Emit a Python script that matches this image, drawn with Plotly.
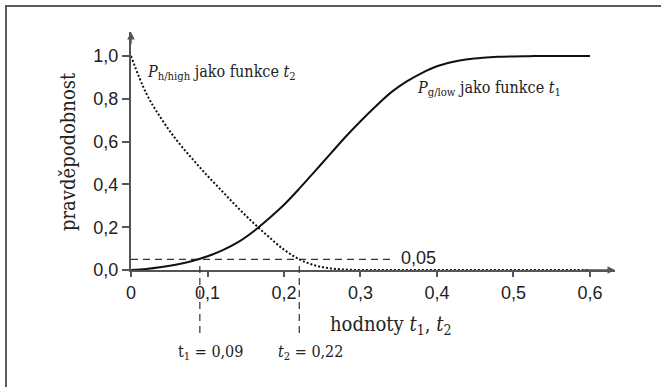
import plotly.graph_objects as go

# ---- data ----
t_vals = [0.00, 0.02, 0.04, 0.06, 0.08, 0.10, 0.12, 0.14, 0.16, 0.18, 0.20,
          0.22, 0.24, 0.26, 0.28, 0.30, 0.32, 0.34, 0.36, 0.38, 0.40, 0.42, 0.44,
          0.46, 0.48, 0.50, 0.52, 0.54, 0.56, 0.58, 0.60]
p_g_low = [0.000, 0.005, 0.014, 0.026, 0.042, 0.064, 0.093, 0.130, 0.180,
           0.240, 0.305, 0.380, 0.460, 0.540, 0.620, 0.695, 0.765, 0.830, 0.880, 0.920,
           0.952, 0.972, 0.985, 0.992, 0.996, 0.998, 0.999, 1.000, 1.000, 1.000, 1.000]
p_h_high = [1.000, 0.825, 0.705, 0.605, 0.520, 0.440, 0.365, 0.290, 0.220,
            0.155, 0.095, 0.050, 0.022, 0.008, 0.002, 0.000, 0.000, 0.000, 0.000, 0.000,
            0.000, 0.000, 0.000, 0.000, 0.000, 0.000, 0.000, 0.000, 0.000, 0.000, 0.000]

threshold_p = 0.05
threshold_line_t = [0.0, 0.339]
t1_value = 0.09
t2_value = 0.22

x_tickvals = [0, 0.1, 0.2, 0.3, 0.4, 0.5, 0.6]
x_ticktext = ["0", "0,1", "0,2", "0,3", "0,4", "0,5", "0,6"]
y_tickvals = [0.0, 0.2, 0.4, 0.6, 0.8, 1.0]
y_ticktext = ["0,0", "0,2", "0,4", "0,6", "0,8", "1,0"]

# ---- layout geometry (pixels) ----
W, H = 661, 387
L, R, T, B = 131, 46, 32, 117
X_MAX = 0.6327
Y_MAX = 1.112
pw = W - L - R
ph = H - T - B

def px_to_paper_x(px):
    return (px - L) / pw

def px_to_paper_y(py):
    return (H - B - py) / ph

AX = "#555555"
SERIF = "DejaVu Serif Condensed, DejaVu Serif"
SANS = "Liberation Sans"

fig = go.Figure()

fig.add_trace(go.Scatter(x=threshold_line_t, y=[threshold_p] * len(threshold_line_t),
                         mode="lines", line=dict(color="#333333", width=1.2, dash="7px,5px"),
                         hoverinfo="skip", showlegend=False))
fig.add_trace(go.Scatter(x=t_vals, y=p_h_high, mode="lines", line_shape="spline",
                         line=dict(color="#111111", width=2, dash="2px,2px"),
                         showlegend=False))
fig.add_trace(go.Scatter(x=t_vals, y=p_g_low, mode="lines", line_shape="spline",
                         line=dict(color="#111111", width=2),
                         showlegend=False))

for tv in (t1_value, t2_value):
    fig.add_shape(type="line", xref="x", yref="paper", x0=tv, x1=tv,
                  y0=px_to_paper_y(266), y1=px_to_paper_y(338),
                  line=dict(color="#333333", width=1.2, dash="7px,5px"))

fig.add_shape(type="path", xref="paper", yref="paper",
              path=f"M {px_to_paper_x(6)},{px_to_paper_y(H + 2)} L {px_to_paper_x(6)},{px_to_paper_y(6)} L {px_to_paper_x(W + 2)},{px_to_paper_y(6)}",
              line=dict(color="#5a5a5a", width=2))

annotations = [
    dict(x=X_MAX, y=0, ax=0.59, ay=0, xref="x", yref="y", axref="x", ayref="y",
         text="", showarrow=True, arrowhead=2, arrowsize=1, arrowwidth=1.5, arrowcolor=AX),
    dict(x=0, y=Y_MAX, ax=0, ay=1.05, xref="x", yref="y", axref="x", ayref="y",
         text="", showarrow=True, arrowhead=2, arrowsize=1, arrowwidth=1.5, arrowcolor=AX),
    dict(x=px_to_paper_x(390), y=px_to_paper_y(325), xref="paper", yref="paper",
         text="hodnoty <i>t</i><sub>1</sub>, <i>t</i><sub>2</sub>", showarrow=False,
         font=dict(family=SERIF, size=20, color="#222222"), xanchor="center", yanchor="middle"),
    dict(x=px_to_paper_x(68), y=px_to_paper_y(152), xref="paper", yref="paper",
         text="pravděpodobnost", textangle=-90, showarrow=False,
         font=dict(family=SERIF, size=20, color="#222222"), xanchor="center", yanchor="middle"),
    dict(x=0.0183, y=0.925, xref="x", yref="y",
         text="<i>P</i><sub>h/high</sub> jako funkce <i>t</i><sub>2</sub>", showarrow=False,
         font=dict(family=SERIF, size=16, color="#222222"), xanchor="left", yanchor="middle"),
    dict(x=0.371, y=0.85, xref="x", yref="y",
         text="<i>P</i><sub>g/low</sub> jako funkce <i>t</i><sub>1</sub>", showarrow=False,
         font=dict(family=SERIF, size=16, color="#222222"), xanchor="left", yanchor="middle"),
    dict(x=0.350, y=0.057, xref="x", yref="y", text="0,05", showarrow=False,
         font=dict(family=SANS, size=18, color="#222222"), xanchor="left", yanchor="middle"),
    dict(x=0.104, y=px_to_paper_y(352), xref="x", yref="paper",
         text="t<sub>1</sub> = 0,09", showarrow=False,
         font=dict(family=SERIF, size=16, color="#222222"), xanchor="center", yanchor="middle"),
    dict(x=0.234, y=px_to_paper_y(352), xref="x", yref="paper",
         text="<i>t</i><sub>2</sub> = 0,22", showarrow=False,
         font=dict(family=SERIF, size=16, color="#222222"), xanchor="center", yanchor="middle"),
]

fig.update_layout(
    width=W, height=H,
    margin=dict(l=L, r=R, t=T, b=B, pad=0),
    paper_bgcolor="white", plot_bgcolor="white",
    showlegend=False,
    annotations=annotations,
    xaxis=dict(range=[0, X_MAX], showgrid=False, zeroline=False, showline=True,
               linecolor=AX, linewidth=2, ticks="outside", ticklen=5, tickwidth=1.5,
               tickcolor=AX, tickvals=x_tickvals, ticktext=x_ticktext,
               tickfont=dict(family=SANS, size=18, color="#222222"), fixedrange=True),
    yaxis=dict(range=[0, Y_MAX], showgrid=False, zeroline=False, showline=True,
               linecolor=AX, linewidth=2, ticks="outside", ticklen=7, tickwidth=1.5,
               tickcolor=AX, tickvals=y_tickvals, ticktext=y_ticktext,
               tickfont=dict(family=SANS, size=18, color="#222222"), fixedrange=True),
)

fig.write_html("out.html", config={"displayModeBar": False})
